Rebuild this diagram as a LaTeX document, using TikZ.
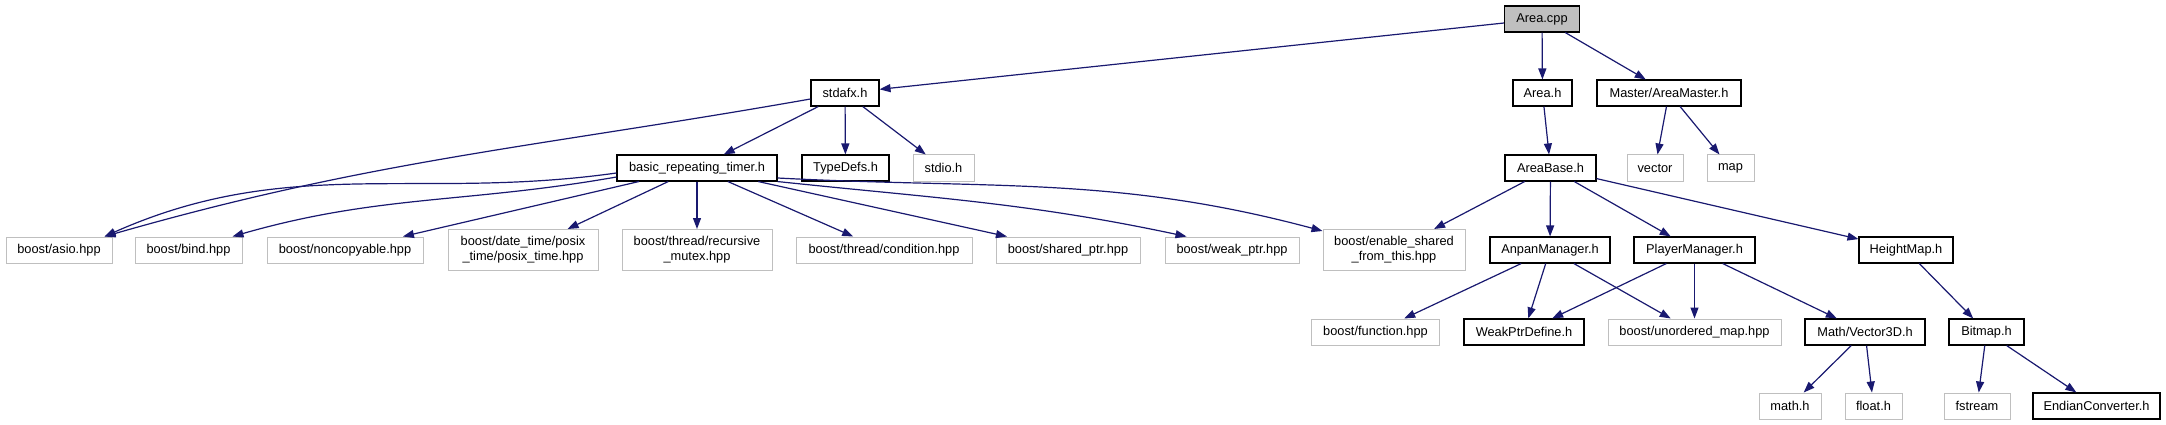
\documentclass[tikz,border=0pt]{standalone}
\usepackage{fontspec}
\setmainfont{Liberation Sans}
\usetikzlibrary{arrows.meta}
\definecolor{edgeblue}{HTML}{191970}
\definecolor{extgray}{HTML}{BFBFBF}
\definecolor{rootgray}{HTML}{BFBFBF}

\begin{document}
\begin{tikzpicture}[x=1pt,y=-1pt]
  % Estilos de los ficheros y de las dependencias
  \tikzset{
    file_node/.style={draw=black,line width=1.1pt,fill=white,inner sep=0pt,minimum height=26pt,align=center,font=\fontsize{12.8}{15}\selectfont},
    root_node/.style={file_node,fill=rootgray},
    ext_node/.style={file_node,draw=extgray,line width=1pt},
    dep/.style={edgeblue,line width=1.2pt,-{Triangle[length=11pt,width=8pt]}}
  }
  \useasboundingbox (0,0) rectangle (2166,425);
  \fill[white] (0,0) rectangle (2166,425);

  % Nivel 1 y 2
  \node[root_node,minimum width=75pt] (areacpp) at (1542,19) {Area.cpp};
  \node[file_node,minimum width=68pt] (stdafx) at (845,93) {stdafx.h};
  \node[file_node,minimum width=59pt] (areah) at (1542.5,93) {Area.h};
  \node[file_node,minimum width=144pt] (areamaster) at (1669,93) {Master/AreaMaster.h};

  % Nivel 3
  \node[file_node,minimum width=160pt] (timer) at (697,168) {basic\_repeating\_timer.h};
  \node[file_node,minimum width=87pt] (typedefs) at (845.5,168) {TypeDefs.h};
  \node[ext_node,minimum width=61pt] (stdio) at (943.5,168) {stdio.h};
  \node[file_node,minimum width=91pt] (areabase) at (1550.5,168) {AreaBase.h};
  \node[ext_node,minimum width=56pt] (vector) at (1655,168) {vector};
  \node[ext_node,minimum width=47pt] (map) at (1730.5,168) {map};

  % Nivel 4
  \node[ext_node,minimum width=106pt] (asio) at (59,250) {boost/asio.hpp};
  \node[ext_node,minimum width=107pt] (bind) at (188.5,250) {boost/bind.hpp};
  \node[ext_node,minimum width=156pt] (noncopyable) at (345,250) {boost/noncopyable.hpp};
  \node[ext_node,minimum width=150pt,minimum height=41pt] (posixtime) at (523,250) {boost/date\_time/posix\\\_time/posix\_time.hpp};
  \node[ext_node,minimum width=150pt,minimum height=41pt] (recmutex) at (697,250) {boost/thread/recursive\\\_mutex.hpp};
  \node[ext_node,minimum width=176pt] (condition) at (884,250) {boost/thread/condition.hpp};
  \node[ext_node,minimum width=144pt] (sharedptr) at (1068,250) {boost/shared\_ptr.hpp};
  \node[ext_node,minimum width=134pt] (weakptr) at (1232,250) {boost/weak\_ptr.hpp};
  \node[ext_node,minimum width=142pt,minimum height=41pt] (enableshared) at (1394,250) {boost/enable\_shared\\\_from\_this.hpp};
  \node[file_node,minimum width=120pt] (anpan) at (1550,250) {AnpanManager.h};
  \node[file_node,minimum width=121pt] (player) at (1694.5,250) {PlayerManager.h};
  \node[file_node,minimum width=94pt] (heightmap) at (1906,250) {HeightMap.h};

  % Nivel 5
  \node[ext_node,minimum width=128pt] (function) at (1375.5,332) {boost/function.hpp};
  \node[file_node,minimum width=120pt] (weakptrdef) at (1524,332) {WeakPtrDefine.h};
  \node[ext_node,minimum width=173pt] (unordered) at (1694.5,332) {boost/unordered\_map.hpp};
  \node[file_node,minimum width=120pt] (vector3d) at (1865,332) {Math/Vector3D.h};
  \node[file_node,minimum width=75pt] (bitmap) at (1986.5,332) {Bitmap.h};

  % Nivel 6
  \node[ext_node,minimum width=62pt] (math) at (1790,406) {math.h};
  \node[ext_node,minimum width=57pt] (float) at (1873.5,406) {float.h};
  \node[ext_node,minimum width=66pt] (fstream) at (1977,406) {fstream};
  \node[file_node,minimum width=127pt] (endian) at (2096.5,406) {EndianConverter.h};

  % Dependencias rectas
  \foreach \from/\to in {areacpp/stdafx,areacpp/areah,areacpp/areamaster,stdafx/timer,stdafx/typedefs,stdafx/stdio,areah/areabase,areamaster/vector,areamaster/map,timer/noncopyable,timer/posixtime,timer/recmutex,timer/condition,timer/sharedptr,areabase/enableshared,areabase/anpan,areabase/player,areabase/heightmap,anpan/function,anpan/weakptrdef,anpan/unordered,player/weakptrdef,player/unordered,player/vector3d,heightmap/bitmap,vector3d/math,vector3d/float,bitmap/fstream,bitmap/endian}
    \draw[dep] (\from) -- (\to);

  % Dependencias curvas
  \draw[dep] ([yshift=-6pt]stdafx.west) to[out=190,in=16] ([xshift=-8pt]asio.north east);
  \draw[dep] ([yshift=-5pt]timer.west) to[out=188,in=24] ([xshift=-8pt]asio.north east);
  \draw[dep] ([yshift=-9pt]timer.west) to[out=190,in=16] ([xshift=-10pt]bind.north east);
  \draw[dep] (timer.south east) to[out=-6,in=168] ([xshift=22pt]weakptr.north west);
  \draw[dep] ([yshift=-10pt]timer.east) to[out=-3,in=165] ([yshift=-2pt]enableshared.north west);
\end{tikzpicture}
\end{document}
